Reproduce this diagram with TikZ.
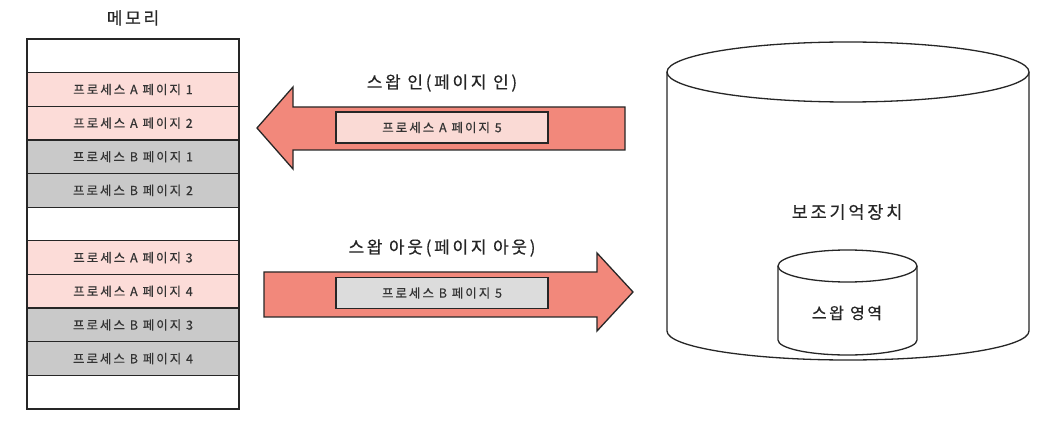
\documentclass[tikz,border=0pt]{standalone}
\usepackage{fontspec}
\setmainfont{Noto Sans CJK KR}
\newfontfamily\hand[LetterSpace=16, FakeBold=0.5]{Noto Sans CJK KR}
\usetikzlibrary{positioning}
\definecolor{pageA}{HTML}{FCDCD8}
\definecolor{pageB}{HTML}{C9C9C9}
\definecolor{swapred}{HTML}{F2887B}
\definecolor{boxA}{HTML}{FADAD5}
\definecolor{boxB}{HTML}{DCDCDC}
\tikzset{
  memrow/.style={draw=black!85, line width=1.3pt, minimum width=212pt, minimum height=33.64pt,
    inner sep=0pt, outer sep=0pt, text=black!80, font=\hand\fontsize{12.5}{14}\selectfont},
  pagebox/.style={draw=black!85, line width=1.2pt, minimum width=212pt, minimum height=31pt,
    inner sep=0pt, text=black!80, font=\hand\fontsize{12.5}{14}\selectfont},
  swaparrow/.style={draw=black!85, line width=1.3pt, fill=swapred},
  title/.style={text=black!85, font=\hand\fontsize{17}{20}\selectfont},
  disk/.style={draw=black!85, line width=1.3pt, fill=white}
}
\begin{document}
\begin{tikzpicture}[x=1pt,y=-1pt]
  \useasboundingbox (0,0) rectangle (1061,422);
  % memory
  \node[title] (memlabel) at (133,18) {메모리};
  \foreach \i/\txt/\col in {1//white,2/프로세스 A 페이지 1/pageA,3/프로세스 A 페이지 2/pageA,
      4/프로세스 B 페이지 1/pageB,5/프로세스 B 페이지 2/pageB,6//white,
      7/프로세스 A 페이지 3/pageA,8/프로세스 A 페이지 4/pageA,
      9/프로세스 B 페이지 3/pageB,10/프로세스 B 페이지 4/pageB,11//white}
    \node[memrow, fill=\col] (row\i) at (133,{39+33.64*(\i-0.5)}) {\txt};

  % swap in
  \draw[swaparrow] (625,107) -- (293,107) -- (293,87) -- (257,128) -- (293,169) -- (293,150) -- (625,150) -- cycle;
  \node[title] (inlabel) at (442,83) {스왑 인(페이지 인)};
  \node[pagebox, fill=boxA] (inpage) at (442,127.5) {프로세스 A 페이지 5};

  % swap out
  \draw[swaparrow] (264,272) -- (597,272) -- (597,253) -- (633,292) -- (597,331) -- (597,317) -- (264,317) -- cycle;
  \node[title] (outlabel) at (442,248) {스왑 아웃(페이지 아웃)};
  \node[pagebox, fill=boxB] (outpage) at (442,293) {프로세스 B 페이지 5};

  % secondary storage
  \draw[disk] (667,72) -- (667,331) arc[start angle=180, end angle=0, x radius=181, y radius=29] -- (1029,72);
  \draw[disk] (848,72) ellipse [x radius=181, y radius=30];
  \node[title, font=\hand\fontsize{17.5}{20}\selectfont] (storage) at (847,212) {보조기억장치};

  \draw[disk] (778,266) -- (778,340) arc[start angle=180, end angle=0, x radius=69.5, y radius=15] -- (917,266);
  \draw[disk] (847.5,266) ellipse [x radius=69.5, y radius=16];
  \node[title, font=\hand\fontsize{16}{19}\selectfont] (swaparea) at (847,313) {스왑 영역};
\end{tikzpicture}
\end{document}
